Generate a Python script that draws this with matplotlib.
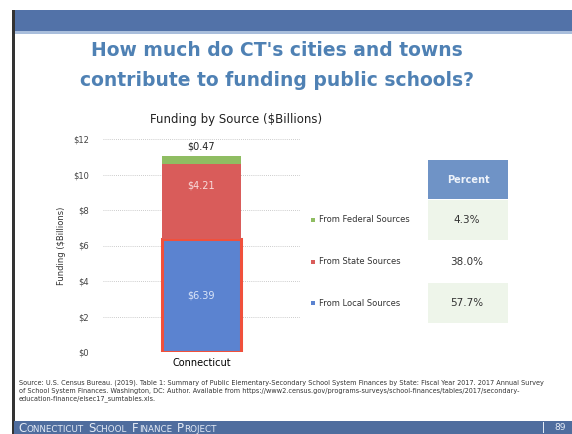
import matplotlib.pyplot as plt
from matplotlib.patches import Rectangle

# funding by source, billions of dollars
states = ["Connecticut"]
local_funds = [6.39]
state_funds = [4.21]
federal_funds = [0.47]

source_names = ["From Federal Sources", "From State Sources", "From Local Sources"]
source_pct = ["4.3%", "38.0%", "57.7%"]
yticks = [0, 2, 4, 6, 8, 10, 12]

W, H = 572, 434
BLUE = "#5b83d0"
RED = "#d95c5a"
GREEN = "#8fbd62"
TITLE_BLUE = "#4f81b4"
FOOT = "#e4ebf5"


def px(x, y):
    """pixel coords (top-left origin) -> figure fraction"""
    return x / W, 1 - y / H


def box(x0, y0, x1, y1, color):
    fig.patches.append(Rectangle(px(x0, y1), (x1 - x0) / W, (y1 - y0) / H,
                                 transform=fig.transFigure, facecolor=color,
                                 edgecolor="none"))


fig = plt.figure(figsize=(W / 100, H / 100), dpi=100)
fig.patch.set_facecolor("white")

# slide frame: header band, left edge, footer
box(14, 10, W, 31, "#5272a8")
box(14, 31, W, 34, "#a9bedc")
box(12, 10, 15, H, "#333333")
box(14, 421, W, H, "#4f6d9e")

fig.text(*px(277, 51), "How much do CT's cities and towns", ha="center", va="center",
         fontsize=13.5, fontweight="bold", color=TITLE_BLUE)
fig.text(*px(277, 80), "contribute to funding public schools?", ha="center", va="center",
         fontsize=13.5, fontweight="bold", color=TITLE_BLUE)

# stacked bar
l, b = px(103, 352)
r, t = px(300, 139)
ax = fig.add_axes([l, b, r - l, t - b])
bar_w = 0.4
ax.bar(states, local_funds, width=bar_w, color=BLUE, edgecolor="#f0503c", linewidth=2.2)
ax.bar(states, state_funds, width=bar_w, bottom=local_funds, color=RED)
tops = [a + s for a, s in zip(local_funds, state_funds)]
ax.bar(states, federal_funds, width=bar_w, bottom=tops, color=GREEN)

ax.text(0, local_funds[0] / 2, f"${local_funds[0]:.2f}", ha="center", va="center",
        fontsize=7, color="#dce6f8")
ax.text(0, local_funds[0] + state_funds[0] / 2 + 0.9, f"${state_funds[0]:.2f}",
        ha="center", va="center", fontsize=7, color="#f8dcdc")
ax.text(0, tops[0] + federal_funds[0] + 0.5, f"${federal_funds[0]:.2f}",
        ha="center", va="center", fontsize=7, color="#222222")

ax.set_xlim(-0.5, 0.5)
ax.set_ylim(0, 12)
ax.set_yticks(yticks)
ax.set_yticklabels([f"${v}" for v in yticks], fontsize=6, color="#444444")
ax.tick_params(axis="x", length=0, labelsize=7, pad=4)
ax.tick_params(axis="y", length=0, pad=10)
ax.grid(axis="y", color="#bbbbbb", linestyle=(0, (1, 1.5)), linewidth=0.6)
ax.set_axisbelow(True)
for s in ax.spines.values():
    s.set_visible(False)
ax.set_ylabel("Funding ($Billions)", fontsize=6, color="#333333", labelpad=5)
fig.text(*px(236, 120), "Funding by Source ($Billions)", ha="center", va="center",
         fontsize=8.5, color="#222222")

# legend and percent table
legend_colors = [GREEN, RED, BLUE]
row_y = [220, 262, 303]
box(428, 160, 508, 199, "#6f93c6")
fig.text(*px(468, 180), "Percent", ha="center", va="center", fontsize=7,
         fontweight="bold", color="#eef3fa")
for top, bot in [(200, 240), (283, 323)]:
    box(428, top, 508, bot, "#eef5ea")
for name, col, pct, ry in zip(source_names, legend_colors, source_pct, row_y):
    box(311, ry - 2, 315, ry + 2, col)
    fig.text(*px(319, ry), name, ha="left", va="center", fontsize=6, color="#333333")
    fig.text(*px(467, ry), pct, ha="center", va="center", fontsize=7.5, color="#333333")

# source note
note = ("Source: U.S. Census Bureau. (2019). Table 1: Summary of Public Elementary-Secondary "
        "School System Finances by State: Fiscal Year 2017. 2017 Annual Survey\n"
        "of School System Finances. Washington, DC: Author. Available from "
        "https://www2.census.gov/programs-surveys/school-finances/tables/2017/secondary-\n"
        "education-finance/elsec17_sumtables.xls.")
fig.text(*px(19, 380), note, ha="left", va="top", fontsize=4.7, color="#333333",
         linespacing=1.3)

# footer text in small caps, laid out piece by piece on one baseline
renderer = fig.canvas.get_renderer()
cur = 18
for word in ["Connecticut", "School", "Finance", "Project"]:
    for piece, size in [(word[0], 8.5), (word[1:].upper(), 6.3)]:
        txt = fig.text(*px(cur, 431.5), piece, ha="left", va="baseline", fontsize=size,
                       color=FOOT)
        cur += txt.get_window_extent(renderer).width
    cur += 5
box(543, 422, 544, 433, FOOT)
fig.text(*px(560, 428), "89", ha="center", va="center", fontsize=6.5, color=FOOT)

fig.savefig("out.png", dpi=100)
